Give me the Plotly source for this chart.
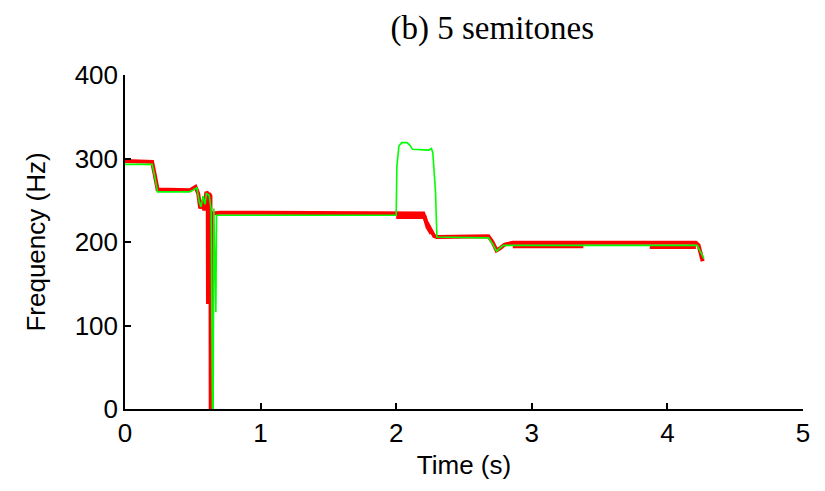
import plotly.graph_objects as go

# Red trace (main contour)
red_t = [0, 0.20, 0.22, 0.24, 0.48, 0.52, 0.54, 0.555, 0.57, 0.585, 0.60, 0.61, 0.612, 0.618, 0.62, 0.63,
         0.632, 0.638, 0.642, 0.70, 1.00, 2.00, 2.20, 2.22, 2.25, 2.28, 2.30, 2.68, 2.71, 2.74, 2.77, 2.80,
         2.86, 4.21, 4.23, 4.26]
red_f = [297, 296, 280, 263, 262, 266, 258, 240, 250, 238, 260, 258, 128, 128, 258, 255,
         0, 0, 234, 235, 235, 235, 234, 225, 215, 207, 206, 207, 200, 190, 193, 197,
         199, 199, 196, 177]

# Red trace (secondary segments, None = gap)
red2_t = [2.00, 2.21, 2.23, 2.26, None, 2.86, 3.38, None, 3.87, 4.21]
red2_f = [230, 230, 218, 210, None, 195, 195, None, 194, 194]

# Green trace
green_t = [0, 0.20, 0.22, 0.24, 0.47, 0.50, 0.53, 0.545, 0.56, 0.575, 0.59, 0.60, 0.62, 0.635, 0.645, 0.65,
           0.655, 0.665, 0.67, 0.675, 0.70, 2.00, 2.005, 2.02, 2.04, 2.08, 2.10, 2.12, 2.24, 2.26, 2.27,
           2.29, 2.30, 2.68, 2.71, 2.74, 2.76, 2.79, 4.22, 4.24, 4.27]
green_f = [293, 293, 278, 260, 260, 262, 265, 250, 242, 255, 245, 258, 256, 240, 0, 0,
           240, 116, 116, 232, 232, 232, 290, 315, 319, 319, 316, 311, 310, 312, 307,
           260, 206, 205, 198, 189, 192, 196, 196, 190, 180]

x_ticks = [0, 1, 2, 3, 4, 5]
y_ticks = [0, 100, 200, 300, 400]

axis_font = dict(family="Liberation Sans, Arial, sans-serif", size=26, color="black")

fig = go.Figure()
fig.add_trace(go.Scatter(x=red_t, y=red_f, mode="lines", line=dict(color="#ff0000", width=4),
                         connectgaps=False, showlegend=False))
fig.add_trace(go.Scatter(x=red2_t, y=red2_f, mode="lines", line=dict(color="#ff0000", width=4),
                         connectgaps=False, showlegend=False))
fig.add_trace(go.Scatter(x=green_t, y=green_f, mode="lines", line=dict(color="#00ff00", width=1.6),
                         showlegend=False))

fig.update_layout(
    width=825, height=491,
    margin=dict(l=117, r=30, t=67, b=90),
    paper_bgcolor="white", plot_bgcolor="white",
    title=dict(text="(b) 5 semitones", x=0.587, xanchor="center", y=0.96, yanchor="middle",
               font=dict(family="Liberation Serif, Times New Roman, serif", size=33, color="black")),
)
fig.update_xaxes(range=[0, 5], tickvals=x_ticks, ticktext=[str(v) for v in x_ticks],
                 showgrid=False, zeroline=False, showline=True, linecolor="black", linewidth=1.5,
                 ticks="inside", ticklen=6, tickcolor="black", tickwidth=1.5, automargin=False,
                 tickfont=axis_font, title=dict(text="Time (s)", font=axis_font, standoff=9))
fig.update_yaxes(range=[0, 400], tickvals=y_ticks, ticktext=[str(v) for v in y_ticks],
                 showgrid=False, zeroline=False, showline=True, linecolor="black", linewidth=1.5,
                 ticks="inside", ticklen=6, tickcolor="black", tickwidth=1.5, automargin=False,
                 tickfont=axis_font, title=dict(text="Frequency (Hz)", font=axis_font, standoff=22))

fig.write_html("out.html")
